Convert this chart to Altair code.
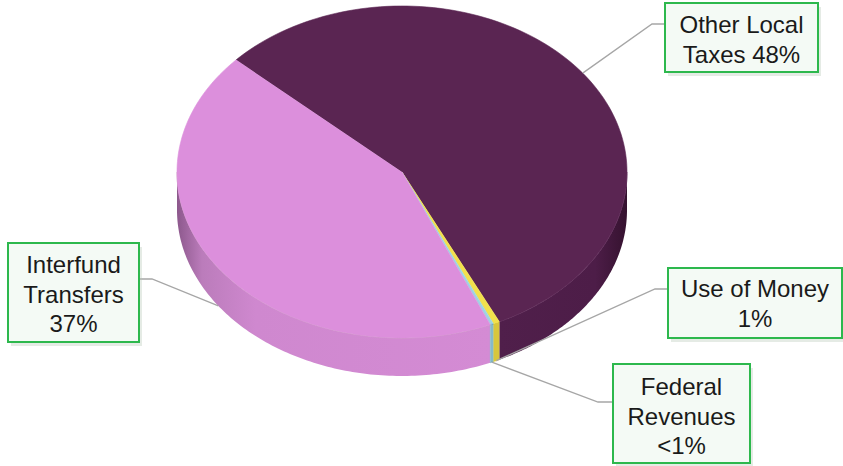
import altair as alt
import pandas as pd
import numpy as np

# ---- data ----
categories = ["Other Local Taxes", "Use of Money", "Federal Revenues", "Interfund Transfers"]
values = [48.0, 0.4, 0.2, 37.0]
label_texts = ["Other Local\nTaxes 48%", "Use of Money\n1%", "Federal\nRevenues\n<1%", "Interfund\nTransfers\n37%"]
top_colors = ["#5a2552", "#f2e14c", "#9fd3e3", "#dc8fdc"]
side_colors = ["#501f4b", "#d8c63c", "#86b9c9", "#d48bd4"]
rim_colors = ["#744470", "#e8d860", "#a8d8e6", "#c8a2bd"]

# ---- layout ----
W, H = 843, 466
CX, CY, RX, RY, DEPTH = 402, 172, 225, 166, 38
START_DEG = -137.5
N = 120

box_x0 = [665, 668, 613, 8]
box_y0 = [3, 268, 364, 243]
box_x1 = [818, 842, 750, 139]
box_y1 = [72, 338, 463, 342]
text_y = [33, 297, 395, 273]
elbow_x = [652, 655, 598, 152]
elbow_y = [24, 289, 402, 279]
attach_x = [665, 668, 613, 139]
attach_y = [24, 289, 402, 279]

total = sum(values)
f1 = np.cumsum(values) / total
f0 = f1 - np.array(values) / total
slices = pd.DataFrame({"cat": categories, "f0": f0, "f1": f1,
                       "top": top_colors, "side": side_colors, "rim": rim_colors})

top_df = slices.merge(pd.DataFrame({"k": np.arange(-1, N + 1)}), how="cross")
side_df = slices.merge(pd.DataFrame({"k": np.arange(0, 2 * N + 2)}), how="cross")
lead_df = slices.merge(pd.DataFrame({"p": [0, 1, 2]}), how="cross")
lead_df["ex"] = lead_df["cat"].map(dict(zip(categories, elbow_x)))
lead_df["ey"] = lead_df["cat"].map(dict(zip(categories, elbow_y)))
lead_df["bx"] = lead_df["cat"].map(dict(zip(categories, attach_x)))
lead_df["by"] = lead_df["cat"].map(dict(zip(categories, attach_y)))

lab_df = pd.DataFrame({"cat": categories, "text": label_texts,
                       "x0": box_x0, "y0": box_y0, "x1": box_x1, "y1": box_y1,
                       "ty": text_y})
lab_df["cx"] = (lab_df.x0 + lab_df.x1) / 2
shadow_df = lab_df.copy()
shadow_df["x0"] += 3; shadow_df["x1"] += 3; shadow_df["y0"] += 4; shadow_df["y1"] += 4

xs = alt.Scale(domain=[0, W], nice=False, zero=False)
ys = alt.Scale(domain=[0, H], nice=False, zero=False, reverse=True)

T0 = f"({START_DEG}*PI/180 + 2*PI*datum.f0)"
T1 = f"({START_DEG}*PI/180 + 2*PI*datum.f1)"

top = alt.Chart(top_df).transform_calculate(
    t=f"{T0} + 2*PI*(datum.f1-datum.f0)*max(datum.k,0)/{N}"
).transform_calculate(
    x=f"datum.k < 0 ? {CX} : {CX} + {RX}*cos(datum.t)",
    y=f"datum.k < 0 ? {CY} : {CY} + {RY}*sin(datum.t)",
).mark_line(strokeWidth=0.6, interpolate="linear").encode(
    x=alt.X("x:Q", scale=xs, axis=None),
    y=alt.Y("y:Q", scale=ys, axis=None),
    fill=alt.Fill("top:N", scale=None),
    stroke=alt.Stroke("top:N", scale=None),
    detail="cat:N",
    order="k:Q",
)

side_base = alt.Chart(side_df).transform_calculate(
    a=f"max({T0}, 0)", b=f"min({T1}, PI)"
).transform_filter("datum.a < datum.b").transform_calculate(
    j=f"datum.k <= {N} ? datum.k : {2*N+1} - datum.k"
).transform_calculate(
    t=f"datum.a + (datum.b-datum.a)*datum.j/{N}"
).transform_calculate(
    x=f"{CX} + {RX}*cos(datum.t)",
    y=f"{CY} + {RY}*sin(datum.t) + (datum.k > {N} ? {DEPTH} : 0)",
)
enc = dict(x=alt.X("x:Q", scale=xs, axis=None),
           y=alt.Y("y:Q", scale=ys, axis=None),
           detail="cat:N", order="k:Q")

side_small = side_base.transform_filter(
    alt.FieldOneOfPredicate(field="cat", oneOf=[categories[1], categories[2]])
).mark_line(strokeWidth=0.6).encode(
    fill=alt.Fill("side:N", scale=None), stroke=alt.Stroke("side:N", scale=None), **enc)

pink_grad = alt.Gradient(
    gradient="linear", x1=0, x2=1, y1=0.5, y2=0.5,
    stops=[alt.GradientStop(color="#8c588c", offset=0),
           alt.GradientStop(color="#bb7cbb", offset=0.08),
           alt.GradientStop(color="#cf88cf", offset=0.25),
           alt.GradientStop(color=side_colors[3], offset=1)])
side_pink = side_base.transform_filter(
    alt.FieldEqualPredicate(field="cat", equal=categories[3])
).mark_line(strokeWidth=0, fill=pink_grad).encode(**enc)

dark_grad = alt.Gradient(
    gradient="linear", x1=0, x2=1, y1=0.5, y2=0.5,
    stops=[alt.GradientStop(color=side_colors[0], offset=0),
           alt.GradientStop(color="#4d1d48", offset=0.75),
           alt.GradientStop(color="#35122f", offset=1)])
side_dark = side_base.transform_filter(
    alt.FieldEqualPredicate(field="cat", equal=categories[0])
).mark_line(strokeWidth=0, fill=dark_grad).encode(**enc)

rim = side_base.transform_filter(f"datum.k <= {N}").mark_line(strokeWidth=1, opacity=0.8).encode(
    stroke=alt.Stroke("rim:N", scale=None), **enc)

leaders = alt.Chart(lead_df).transform_calculate(
    m=f"({T0} + {T1})/2"
).transform_calculate(
    x=f"datum.p == 0 ? {CX} + {RX}*cos(datum.m) : (datum.p == 1 ? datum.ex : datum.bx)",
    y=f"datum.p == 0 ? {CY} + {RY}*sin(datum.m) + (sin(datum.m) > 0 ? {DEPTH} : 0) : (datum.p == 1 ? datum.ey : datum.by)",
).mark_line(color="#a6a6a6", strokeWidth=1.3).encode(
    x=alt.X("x:Q", scale=xs, axis=None),
    y=alt.Y("y:Q", scale=ys, axis=None),
    detail="cat:N",
    order="p:Q",
)

shadow = alt.Chart(shadow_df).mark_rect(color="#b5c5b5", opacity=0.35).encode(
    x=alt.X("x0:Q", scale=xs, axis=None), x2="x1:Q",
    y=alt.Y("y0:Q", scale=ys, axis=None), y2="y1:Q",
)
boxes = alt.Chart(lab_df).mark_rect(fill="#f4faf5", stroke="#2db84d", strokeWidth=2).encode(
    x=alt.X("x0:Q", scale=xs, axis=None), x2="x1:Q",
    y=alt.Y("y0:Q", scale=ys, axis=None), y2="y1:Q",
)
texts = alt.Chart(lab_df).mark_text(
    font="Liberation Sans", fontSize=24, lineHeight=29.5, lineBreak="\n",
    align="center", baseline="alphabetic", color="#1a1a1a"
).encode(
    x=alt.X("cx:Q", scale=xs, axis=None),
    y=alt.Y("ty:Q", scale=ys, axis=None),
    text="text:N",
)

chart = alt.layer(side_dark, side_pink, side_small, rim, top, leaders, shadow, boxes, texts).properties(
    width=W, height=H, padding=0, autosize=alt.AutoSizeParams(type="none"),
    background="white",
).configure_view(stroke=None)

chart.save("out.html", embed_options={"renderer": "svg", "actions": False})
